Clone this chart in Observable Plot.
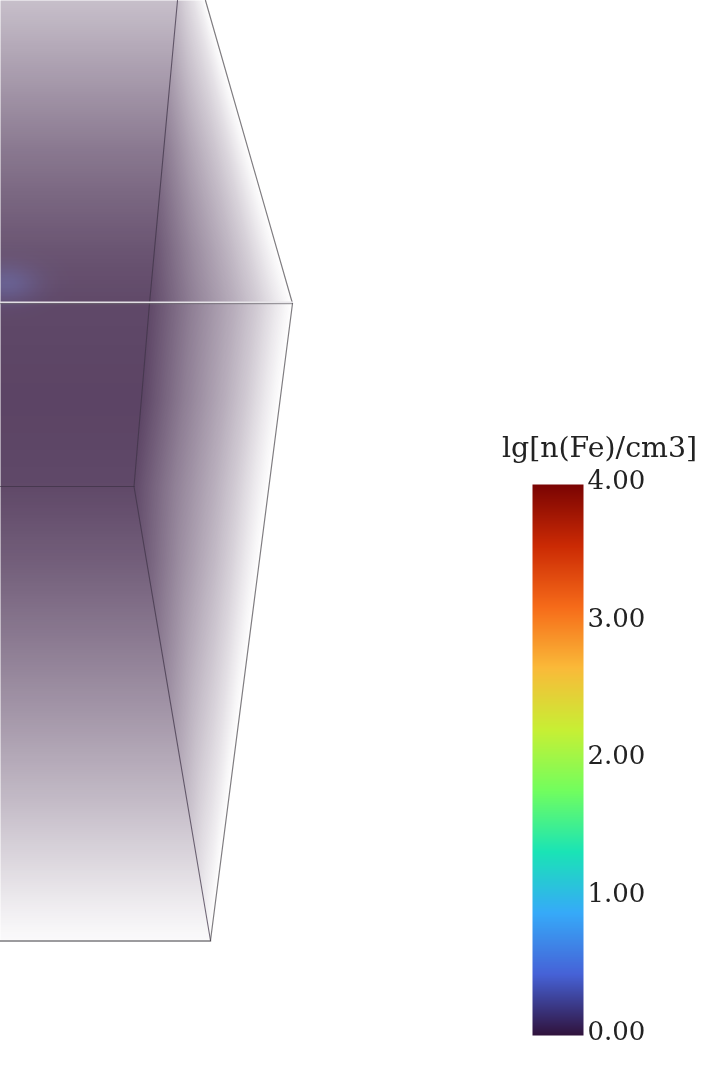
<!DOCTYPE html>
<html><head><meta charset="utf-8">
<script src="https://cdn.jsdelivr.net/npm/d3@7"></script>
<script src="https://cdn.jsdelivr.net/npm/@observablehq/plot@0.6"></script>
<style>
html,body{margin:0;padding:0;background:#fff;overflow:hidden}
#chart{position:relative;width:704px;height:1068px;filter:blur(0.35px)}
#chart svg{position:absolute;left:0;top:0;background:transparent}
</style></head><body><div id="chart"></div>
<script>
// Colour bar
const barTitle = "lg[n(Fe)/cm3]";
const barTicks = [0, 1, 2, 3, 4];
const colorValues = [0, 0.444, 0.889, 1.333, 1.778, 2.222, 2.667, 3.111, 3.556, 4];
const colorStops = ["#30123b", "#4662d7", "#36aaf9", "#1ae4b6", "#72fe5e", "#c8ef34", "#faba39", "#f66b19", "#cb2a04", "#7a0403"];
// Box edges, in picture coordinates
const innerEdgeUpper = [[177, 0], [149, 303], [133.5, 486]];
const innerEdgeLower = [[133.5, 486], [210, 940]];
const outerEdgeUpper = [[205, 0], [292, 303]];
const outerEdgeLower = [[292, 303], [210, 940]];
const backEdgeTop = [[0, 303], [292, 303]];
const backEdgeMid = [[0, 486], [133.5, 486]];
const frontEdgeBottom = [[0, 940.5], [210, 940.5]];
// Opacity of the haze read down the box and across the side face
const depthY = [0, 50, 100, 150, 200, 250, 303, 400, 486, 560, 640, 720, 800, 860, 910, 940];
const depthOpacity = [.27, .37, .47, .57, .65, .72, .77, .79, .77, .68, .56, .43, .29, .17, .07, .02];
const sideU = [0, .15, .3, .45, .6, .75, .9, 1];
const sideOpacity = [1, .85, .7, .57, .44, .29, .11, 0];
// Low-density blue patch
const blobX = 6, blobY = 283, blobRX = 32, blobRY = 19, blobPeak = 0.14;

const lerpTable = (xs, ys, v) => {
  const i = Math.min(xs.length - 2, Math.max(0, d3.bisectRight(xs, v) - 1));
  const t = Math.min(1, Math.max(0, (v - xs[i]) / (xs[i + 1] - xs[i])));
  return ys[i] + t * (ys[i + 1] - ys[i]);
};
const innerX = y => y < 486
  ? lerpTable(innerEdgeUpper.map(d => d[1]), innerEdgeUpper.map(d => d[0]), y)
  : lerpTable(innerEdgeLower.map(d => d[1]), innerEdgeLower.map(d => d[0]), y);
const outerX = y => y < 303
  ? lerpTable(outerEdgeUpper.map(d => d[1]), outerEdgeUpper.map(d => d[0]), y)
  : lerpTable(outerEdgeLower.map(d => d[1]), outerEdgeLower.map(d => d[0]), y);
const boxOpacity = (x, y) => {
  if (y > 940) return 0;
  const a = lerpTable(depthY, depthOpacity, y), xi = innerX(y), xo = outerX(y);
  if (x > xo) return 0;
  if (x <= xi) return a;
  return a * lerpTable(sideU, sideOpacity, (x - xi) / (xo - xi));
};
const boxValue = (x, y) => {
  const d = ((x - blobX) / blobRX) ** 2 + ((y - blobY) / blobRY) ** 2;
  return blobPeak * Math.exp(-d);
};
const edge = (e, o = {}) => Plot.line(e, {x: d => d[0], y: d => d[1], stroke: "#3f3346", strokeWidth: 1.1, strokeOpacity: .72, ...o});
const outer = {stroke: "#4a464c", strokeWidth: 1.2, strokeOpacity: .7};
const colorScale = {type: "linear", domain: colorValues, range: colorStops};

const box = Plot.plot({
  width: 704, height: 1068, margin: 0,
  x: {domain: [0, 704], axis: null},
  y: {domain: [1068, 0], axis: null},
  color: colorScale,
  marks: [
    Plot.raster({fill: boxValue, fillOpacity: boxOpacity, x1: 0, x2: 320, y1: 0, y2: 960, pixelSize: 1}),
    edge(innerEdgeUpper), edge(innerEdgeLower), edge(outerEdgeUpper, outer), edge(outerEdgeLower, outer),
    edge(backEdgeMid),
    edge(frontEdgeBottom, {strokeWidth: 1.6, stroke: "#4a464c"}),
    edge(backEdgeTop, {stroke: "#e8e6ea", strokeOpacity: .95, strokeWidth: 1.4, dy: -1.2}),
    edge(backEdgeTop, {stroke: "#6e6a72", strokeOpacity: .8, strokeWidth: 1, dy: .2})
  ]
});

const bar = Plot.plot({
  width: 704, height: 1068,
  marginLeft: 532, marginRight: 121, marginTop: 484, marginBottom: 33,
  x: {domain: [0, 1], axis: null},
  y: {domain: [0, 4], axis: null},
  color: colorScale,
  style: {fontFamily: "'DejaVu Serif', serif"},
  marks: [
    Plot.raster({fill: (x, y) => y, x1: 0, x2: 1, y1: 0, y2: 4, width: 1, height: 551, imageRendering: "auto"}),
    Plot.axisY(barTicks, {anchor: "right", tickSize: 0, tickPadding: 4, tickFormat: d3.format(".2f"), fontSize: 26, fill: "#222", dy: -4, label: null}),
    Plot.text([barTitle], {x: 1, y: 4, textAnchor: "middle", dx: 16, dy: -37, fontSize: 28.4, fill: "#222"})
  ]
});
const root = document.getElementById("chart");
root.append(box, bar);
</script></body></html>
